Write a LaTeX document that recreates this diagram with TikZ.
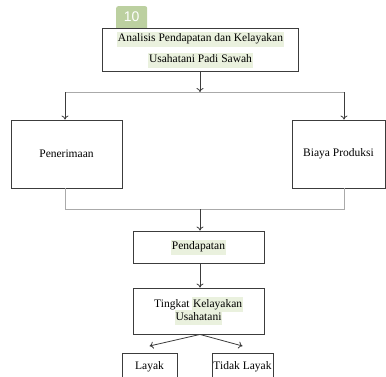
\documentclass[tikz,border=0pt]{standalone}
\usepackage{fontspec}
\setmainfont{Liberation Serif}
\newfontfamily\badgefont{Liberation Sans}
\usetikzlibrary{arrows.meta}
\definecolor{hlgreen}{RGB}{234,241,222}
\definecolor{badgegreen}{RGB}{188,208,160}
\definecolor{boxgray}{RGB}{60,60,60}
\definecolor{linegray}{RGB}{170,170,170}
\newcommand\hlbox[1]{{\setlength{\fboxsep}{0.6pt}\colorbox{hlgreen}{\strut #1}}}
\tikzset{
  box/.style={draw=boxgray, line width=0.9pt, inner sep=0pt, align=center,
    font=\fontsize{11.5}{13.8}\selectfont},
  arr/.style={draw=boxgray, line width=0.8pt, -{To[length=4pt,width=7pt]}},
  conn/.style={draw=linegray, line width=0.9pt},
}
\begin{document}
\begin{tikzpicture}[x=1pt,y=-1pt]
\useasboundingbox (0,0) rectangle (386,376);
\clip (0,0) rectangle (386,376);
% badge
\node[fill=badgegreen, rounded corners=2pt, minimum width=31pt, minimum height=24pt, inner sep=0pt,
  text=white, font=\badgefont\fontsize{14}{14}\selectfont, anchor=north west] (badge) at (116,6) {\raisebox{4pt}{10}};
% boxes
\node[box, fill=white, minimum width=196pt, minimum height=43pt] (top) at (200.5,49.5)
  {\hlbox{Analisis Pendapatan dan Kelayakan}\\[5pt]\hlbox{Usahatani Padi Sawah}};
\node[box, minimum width=111pt, minimum height=68pt] (pen) at (66.5,154) {\raisebox{-3pt}{Penerimaan}};
\node[box, minimum width=93pt, minimum height=68pt] (bia) at (338.5,154) {\raisebox{-3pt}{Biaya Produksi}};
\node[box, minimum width=131pt, minimum height=32pt] (pend) at (198.5,247) {\hlbox{Pendapatan}};
\node[box, minimum width=131pt, minimum height=46pt] (ting) at (198.5,311)
  {Tingkat \hlbox{Kelayakan}\\[-3pt]\hlbox{Usahatani}};
\node[box, minimum width=55pt, minimum height=34pt, anchor=north] (lay) at (149.5,353) {\raisebox{9pt}{Layak}};
\node[box, minimum width=61pt, minimum height=34pt, anchor=north] (tid) at (242.5,353) {\raisebox{9pt}{Tidak Layak}};
% connectors
\coordinate (hl) at (65,92);
\coordinate (hr) at (344,92);
\coordinate (bl) at (65,209);
\coordinate (br) at (344,209);
\coordinate (bm) at (200,209);
\draw[conn] (hl) -- (hr);
\draw[arr] (top.south -| 200,0) -- (200,92);
\draw[arr] (hl) -- (pen.north -| hl);
\draw[arr] (hr) -- (bia.north -| hr);
\draw[conn] (pen.south -| bl) -- (bl) -- (br) -- (bia.south -| br);
\draw[arr] (bm) -- (pend.north -| bm);
\draw[arr] (pend.south -| 200,0) -- (ting.north -| 200,0);
\draw[arr] (ting.south -| 200,0) -- ([yshift=7pt]lay.north);
\draw[arr] (ting.south -| 200,0) -- ([yshift=7pt]tid.north);
\end{tikzpicture}
\end{document}
